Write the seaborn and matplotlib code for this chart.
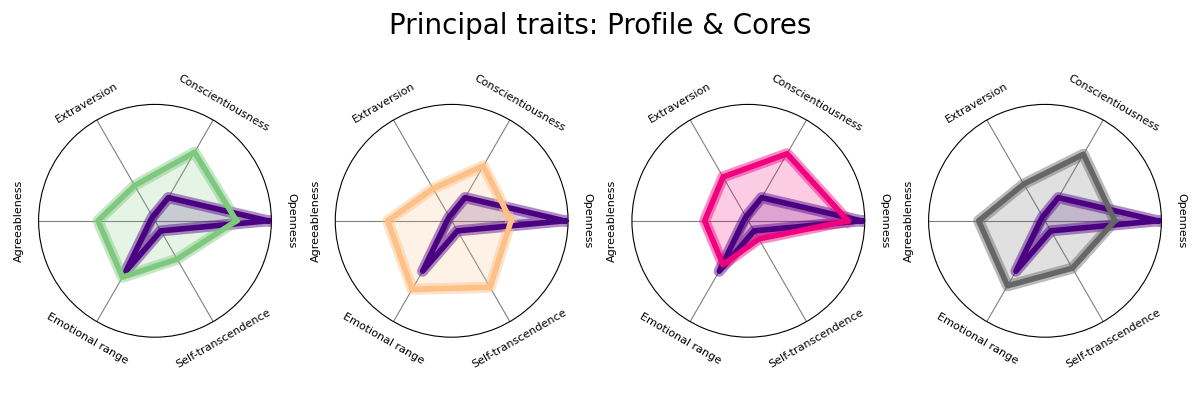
import seaborn as sns
import matplotlib.pyplot as plt
import numpy as np

traits = ["Openness", "Conscientiousness", "Extraversion",
          "Agreeableness", "Emotional range", "Self-transcendence"]

profile = [0.97, 0.23, 0.04, 0.04, 0.50, 0.10]

core_green = [0.70, 0.68, 0.35, 0.49, 0.56, 0.38]
core_orange = [0.51, 0.545, 0.32, 0.55, 0.68, 0.66]
core_pink = [0.855, 0.665, 0.435, 0.375, 0.435, 0.18]
core_gray = [0.60, 0.66, 0.365, 0.57, 0.645, 0.47]

cores = [core_green, core_orange, core_pink, core_gray]
accent = sns.color_palette("Accent", 8)
core_colors = [accent[0], accent[2], accent[5], accent[7]]
profile_color = "#4b0082"

angles = np.linspace(0, 2 * np.pi, len(traits), endpoint=False)
closed = np.append(angles, angles[0])


def draw_shape(ax, vals, color):
    v = np.append(vals, vals[0])
    ax.fill(closed, v, color=color, alpha=0.2, zorder=2)
    sns.lineplot(x=closed, y=v, ax=ax, sort=False, estimator=None,
                 color=color, lw=8, alpha=0.45, zorder=3)
    sns.lineplot(x=closed, y=v, ax=ax, sort=False, estimator=None,
                 color=color, lw=4, zorder=4)


fig, axes = plt.subplots(1, 4, figsize=(12, 4), subplot_kw=dict(polar=True))
fig.subplots_adjust(left=0.03, right=0.97, bottom=0.157, top=0.739, wspace=0.2466)

for ax, core, col in zip(axes, cores, core_colors):
    draw_shape(ax, profile, profile_color)
    draw_shape(ax, core, col)
    ax.set_ylim(0, 1)
    ax.set_yticks([])
    ax.set_xticks(angles)
    ax.set_xticklabels([])
    ax.xaxis.grid(True, color="gray", lw=0.8)
    ax.spines["polar"].set_color("black")
    ax.set_xlabel("")
    ax.set_ylabel("")
    for a, name in zip(angles, traits):
        rot = np.degrees(a) - 90
        if rot > 90:
            rot -= 180
        ax.text(a, 1.17, name, rotation=rot, ha="center", va="center",
                fontsize=8, rotation_mode="anchor")

fig.suptitle("Principal traits: Profile & Cores", fontsize=20, y=0.97)
plt.savefig("out.png", dpi=100)
